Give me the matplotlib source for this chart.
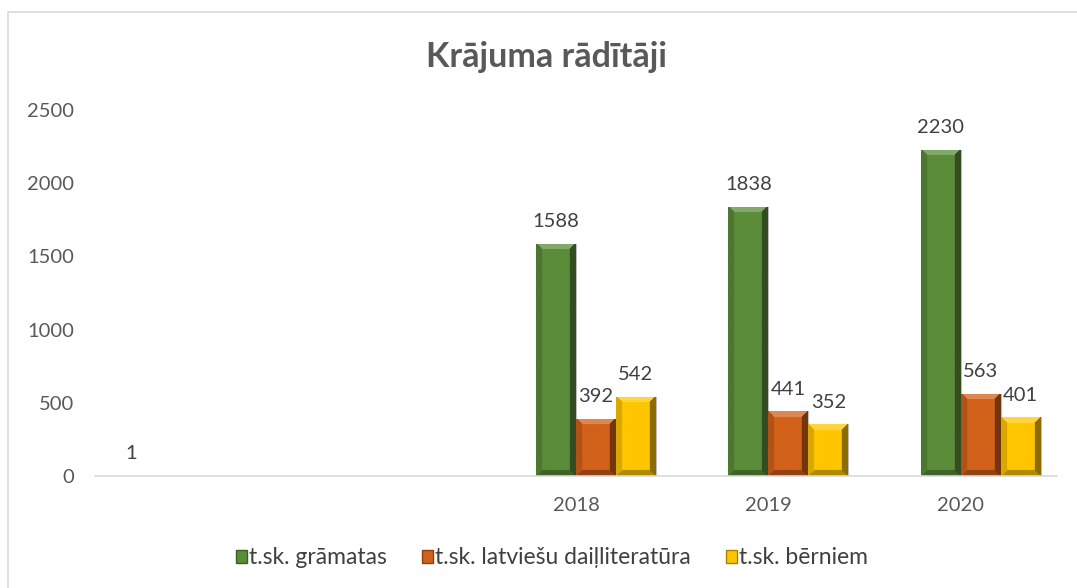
import matplotlib
matplotlib.use("Agg")
import numpy as np
from matplotlib import pyplot as plt
from matplotlib.colors import to_rgb
from matplotlib.patches import Patch, Rectangle

# Datu tabula (pirmās divas kategorijas bez nosaukuma)
categories = ["", "", "2018", "2019", "2020"]
hidden_values = [1, None, None, None, None]
gramatas = [None, None, 1588, 1838, 2230]
latviesu = [None, None, 392, 441, 563]
berniem = [None, None, 542, 352, 401]
series_names = ["t.sk. grāmatas", "t.sk. latviešu daiļliteratūra", "t.sk. bērniem"]

plt.rcParams["font.family"] = ["Lato", "DejaVu Sans"]

colors = ["#5B8C3A", "#D2611A", "#FFC600"]
edges = ["#3B5E24", "#8E3F0E", "#A88200"]


def shade(c, f):
    c = np.array(to_rgb(c))
    if f > 0:
        return c + (1 - c) * f
    return c * (1 + f)


def bevel(ax, patch, color, bw=6):
    # slīpā mala ap stabiņu (kā Excel "bevel" efekts)
    bb = patch.get_window_extent()
    nx, ny = max(int(bb.width), 2), max(int(bb.height), 2)
    if ny < 3:
        return
    xx, yy = np.meshgrid(np.arange(nx) + 0.5, np.arange(ny) + 0.5)
    dl, dr = xx, nx - xx
    dt, db = yy, ny - yy
    d = np.stack([dl, dr, dt, db])
    face = np.argmin(d, axis=0)
    near = d.min(axis=0) < bw
    img = np.tile(shade(color, 0.0), (ny, nx, 1))
    facts = [-0.15, -0.45, 0.25, -0.3]
    for k, f in enumerate(facts):
        m = near & (face == k)
        img[m] = shade(color, f)
    x0, y0 = patch.get_x(), patch.get_y()
    im = ax.imshow(img, extent=(x0, x0 + patch.get_width(), y0, y0 + patch.get_height()),
                   aspect="auto", interpolation="bilinear", zorder=patch.get_zorder() + 0.1)
    im.set_clip_path(patch)


fig = plt.figure(figsize=(10.77, 5.88), dpi=100)
ax = fig.add_axes([95 / 1077, 1 - 476 / 588, 962 / 1077, 366 / 588])

x = np.arange(len(categories))
w = 40 / 192.5
all_series = [hidden_values, gramatas, latviesu, berniem]

ax.set_xlim(-0.5, len(categories) - 0.5)
ax.set_ylim(0, 2500)

bar_list = []
for i, vals in enumerate(all_series):
    xs = [xi + (i - 1.5) * w for xi, v in zip(x, vals) if v is not None]
    ys = [v for v in vals if v is not None]
    if i == 0:
        bars = ax.bar(xs, ys, width=w, color="#7f7f7f")
    else:
        bars = ax.bar(xs, ys, width=w, color=colors[i - 1],
                      edgecolor="#BFBFBF", linewidth=0.8)
        bar_list.append((bars, colors[i - 1]))
    for xx, yy in zip(xs, ys):
        ax.annotate(str(yy), (xx, yy), xytext=(0, 12), textcoords="offset points",
                    ha="center", va="baseline", fontsize=14.5, color="#404040")

fig.canvas.draw()
for bars, c in bar_list:
    for p in bars:
        bevel(ax, p, c)
ax.set_xlim(-0.5, len(categories) - 0.5)
ax.set_ylim(0, 2500)

ax.set_yticks([0, 500, 1000, 1500, 2000, 2500])
ax.set_xticks(x)
ax.set_xticklabels(categories)
ax.tick_params(axis="both", length=0, labelsize=14.5, labelcolor="#595959")
ax.tick_params(axis="y", pad=15)
ax.tick_params(axis="x", pad=15)
for s in ["top", "right", "left"]:
    ax.spines[s].set_visible(False)
ax.spines["bottom"].set_color("#D9D9D9")
ax.spines["bottom"].set_linewidth(1.2)

fig.text(547 / 1077, 1 - 57 / 588, "Krājuma rādītāji", ha="center", va="center",
         fontsize=24.5, fontweight="bold", color="#595959")

handles = [Patch(facecolor=c, edgecolor=e) for c, e in zip(colors, edges)]
fig.legend(handles, series_names, loc="center", bbox_to_anchor=(552 / 1077, 1 - 558 / 588),
           ncol=3, frameon=False, fontsize=16.5, handlelength=0.5, handleheight=0.5,
           handletextpad=0.1, columnspacing=1.5, labelcolor="#404040")

fig.patches.append(Rectangle((8 / 1077, -0.05), 1.1, 1 - 12 / 588 + 0.05,
                             transform=fig.transFigure, fill=False,
                             edgecolor="#D9D9D9", linewidth=1.2))

fig.savefig("out.png", dpi=100)
